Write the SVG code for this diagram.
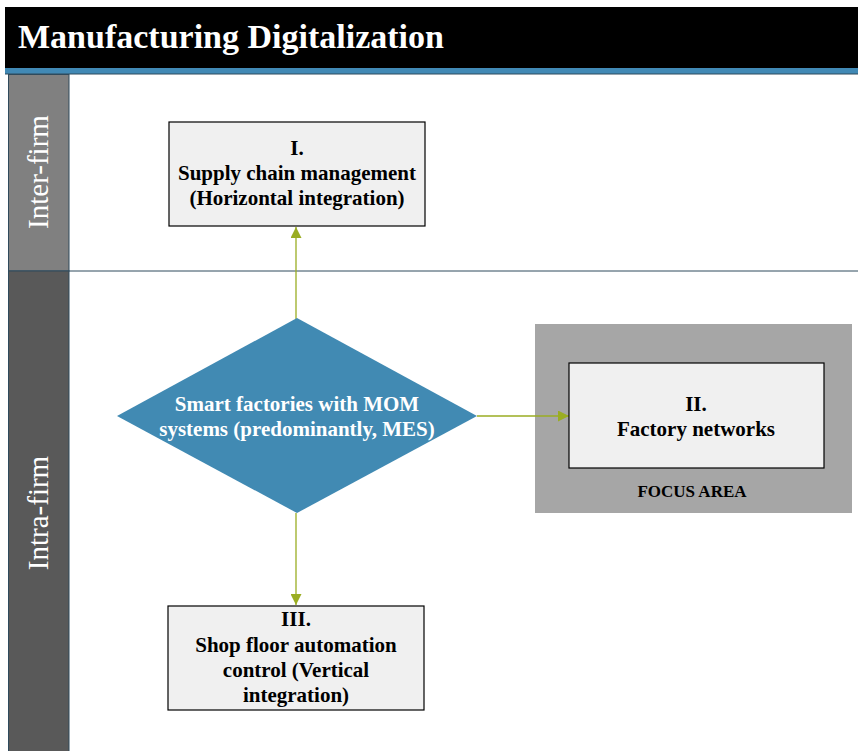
<svg xmlns="http://www.w3.org/2000/svg" width="858" height="751" viewBox="0 0 858 751">
<defs>
<style>
.t{font-family:"Liberation Serif","Times New Roman",serif;font-weight:bold;}
.box{fill:#f0f0f0;stroke:#000;stroke-width:1.2;}
.lbl{font-size:21px;fill:#000;text-anchor:middle;}
.lane{font-family:"Liberation Serif","Times New Roman",serif;font-size:29px;fill:#fff;text-anchor:middle;}
.conn{stroke:#9aad22;stroke-width:1.3;fill:none;marker-end:url(#ah);}
</style>
<marker id="ah" viewBox="0 0 10 10" refX="10" refY="5" markerWidth="11" markerHeight="11" markerUnits="userSpaceOnUse" orient="auto">
<path d="M0,0 L10,5 L0,10 z" fill="#9aad22"/>
</marker>
</defs>
<rect width="858" height="751" fill="#fff"/>
<g id="title">
<rect x="5" y="7" width="853" height="61" fill="#000"/>
<rect x="5" y="68" width="853" height="6" fill="#4189b5"/>
<line x1="5" y1="74" x2="858" y2="74" stroke="#2f4a5c" stroke-width="1"/>
<text class="t" x="18" y="48" font-size="34" fill="#fff">Manufacturing Digitalization</text>
</g>
<g id="lanes">
<rect x="8.5" y="74.5" width="60.5" height="196.5" fill="#808080" stroke="#2f4a5c" stroke-width="1"/>
<rect x="8.5" y="271" width="60.5" height="482" fill="#595959" stroke="#2f4a5c" stroke-width="1"/>
<line x1="69" y1="271" x2="858" y2="271" stroke="#2f4a5c" stroke-width="1"/>
<text class="lane" transform="translate(48,172) rotate(-90)">Inter-firm</text>
<text class="lane" transform="translate(48,513) rotate(-90)">Intra-firm</text>
</g>
<g id="focus-area">
<rect x="535" y="324" width="317" height="189" fill="#a6a6a6"/>
<text class="t" x="692" y="497" font-size="17" text-anchor="middle" fill="#000">FOCUS AREA</text>
</g>
<g id="connectors">
<line class="conn" x1="296" y1="319" x2="296" y2="227"/>
<line class="conn" x1="477" y1="416" x2="569" y2="416"/>
<line class="conn" x1="296" y1="513" x2="296" y2="605"/>
</g>
<g id="node-I">
<rect class="box" x="169" y="122" width="256" height="104"/>
<text class="t lbl" x="297" y="155">I.</text>
<text class="t lbl" x="297" y="180">Supply chain management</text>
<text class="t lbl" x="297" y="205">(Horizontal integration)</text>
</g>
<g id="node-diamond">
<path d="M297,318 L477,416 L297,513 L117,416 Z" fill="#418ab3"/>
<text class="t lbl" x="297" y="411" style="fill:#fff">Smart factories with MOM</text>
<text class="t lbl" x="297" y="436" style="fill:#fff">systems (predominantly, MES)</text>
</g>
<g id="node-II">
<rect class="box" x="569" y="363" width="255" height="105"/>
<text class="t lbl" x="696" y="411">II.</text>
<text class="t lbl" x="696" y="436">Factory networks</text>
</g>
<g id="node-III">
<rect class="box" x="168" y="606" width="256" height="104"/>
<text class="t lbl" x="296" y="626">III.</text>
<text class="t lbl" x="296" y="652">Shop floor automation</text>
<text class="t lbl" x="296" y="677">control (Vertical</text>
<text class="t lbl" x="296" y="702">integration)</text>
</g>
</svg>
